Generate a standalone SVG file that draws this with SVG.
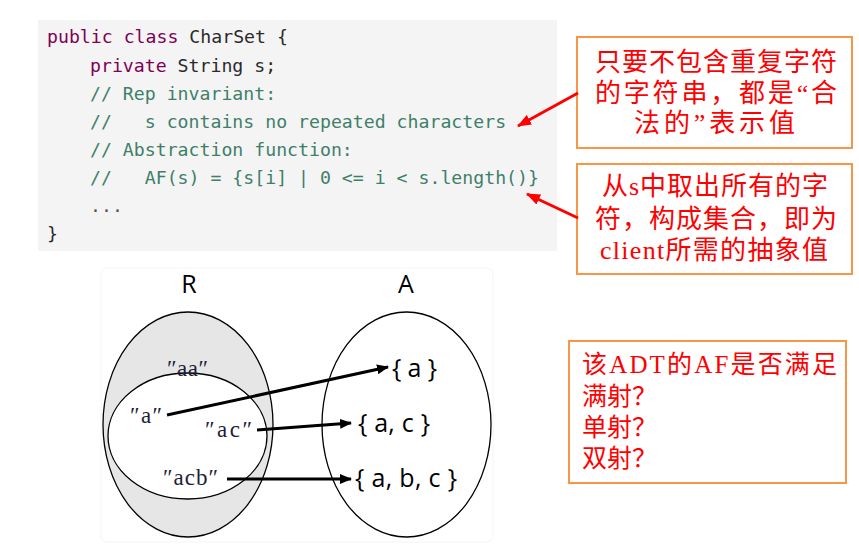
<svg xmlns="http://www.w3.org/2000/svg" width="859" height="547" viewBox="0 0 859 547">
<style>
.code{font-family:"DejaVu Sans Mono","Liberation Mono",monospace;font-size:18.2px;}
.kw{fill:#7f0055;}
.pl{fill:#2a2a2a;}
.cm{fill:#3f7f6a;}
.box{fill:#ffffff;stroke:#f79646;stroke-width:2;}
.note{font-family:"Liberation Serif","Noto Sans CJK SC",serif;fill:#ff0000;}
.venn{fill:none;stroke:#000;stroke-width:1.3;}
.str{font-family:"Liberation Serif","DejaVu Serif",serif;font-size:23px;fill:#1e1e3a;}
.set{font-family:"Open Sans","Noto Sans",sans-serif;font-size:25px;fill:#000;}
.big{font-family:"Open Sans","Noto Sans",sans-serif;font-size:25px;fill:#000;text-anchor:middle;}
.conn{stroke:#000;stroke-width:3;fill:none;}
.rconn{stroke:#ff0000;stroke-width:3;fill:none;}
</style>
<defs>
<marker id="ah" markerWidth="12" markerHeight="10" refX="11" refY="5" orient="auto" markerUnits="userSpaceOnUse">
<path d="M0,0 L12,5 L0,10 Z" fill="#000"/>
</marker>
<marker id="rh" markerWidth="14" markerHeight="11" refX="13" refY="5.5" orient="auto" markerUnits="userSpaceOnUse">
<path d="M0,0 L14,5.5 L0,11 Z" fill="#ff0000"/>
</marker>
</defs>
<rect width="859" height="547" fill="#ffffff"/>

<g id="code">
<rect x="38" y="20" width="519" height="231" fill="#f4f4f4"/>
<text class="code" x="47" y="43" xml:space="preserve"><tspan class="kw">public class</tspan><tspan class="pl"> CharSet {</tspan></text>
<text class="code" x="90" y="72" xml:space="preserve"><tspan class="kw">private</tspan><tspan class="pl"> String s;</tspan></text>
<text class="code cm" x="90" y="100" xml:space="preserve">// Rep invariant:</text>
<text class="code cm" x="90" y="128" xml:space="preserve">//   s contains no repeated characters</text>
<text class="code cm" x="90" y="156" xml:space="preserve">// Abstraction function:</text>
<text class="code cm" x="90" y="184" xml:space="preserve">//   AF(s) = {s[i] | 0 &lt;= i &lt; s.length()}</text>
<text class="code" x="90" y="212" fill="#555">...</text>
<text class="code pl" x="47" y="240">}</text>
</g>

<g id="note-rep">
<rect class="box" x="577" y="37" width="275" height="111"/>
<text class="note" font-size="26" x="595" y="71" textLength="242" lengthAdjust="spacing">只要不包含重复字符</text>
<text class="note" font-size="26" x="595" y="102" textLength="242" lengthAdjust="spacing">的字符串，都是“合</text>
<text class="note" font-size="26" x="634" y="132" textLength="161" lengthAdjust="spacing">法的”表示值</text>
</g>

<g id="note-af">
<rect class="box" x="577" y="164" width="275" height="110"/>
<text class="note" font-size="26" x="602" y="195" textLength="226" lengthAdjust="spacing">从s中取出所有的字</text>
<text class="note" font-size="26" x="595" y="228" textLength="242" lengthAdjust="spacing">符，构成集合，即为</text>
<text class="note" font-size="26" x="600" y="259" textLength="228" lengthAdjust="spacing">client所需的抽象值</text>
</g>

<g id="note-question">
<rect class="box" x="569" y="341" width="277" height="142"/>
<text class="note" font-size="25" x="582" y="373" textLength="255" lengthAdjust="spacing">该ADT的AF是否满足</text>
<text class="note" font-size="25" x="582" y="405">满射？</text>
<text class="note" font-size="25" x="582" y="436">单射？</text>
<text class="note" font-size="25" x="582" y="467">双射？</text>
</g>

<g id="venn-frame">
<rect x="101" y="268" width="392" height="274" rx="6" fill="none" stroke="#f4f4f4" stroke-width="1"/>
</g>

<g id="set-R">
<ellipse cx="188" cy="424.5" rx="85" ry="112.5" fill="#e6e6e6" stroke="#000" stroke-width="1.3"/>
<ellipse cx="187.5" cy="436" rx="79.5" ry="63" fill="#ffffff" stroke="#000" stroke-width="1.3"/>
<text class="big" x="189" y="293">R</text>
<text class="str" x="167" y="376" textLength="41" lengthAdjust="spacing">″aa″</text>
<text class="str" x="130" y="423" textLength="32" lengthAdjust="spacing">″a″</text>
<text class="str" x="205" y="437" textLength="47" lengthAdjust="spacing">″ac″</text>
<text class="str" x="163" y="485" textLength="55" lengthAdjust="spacing">″acb″</text>
</g>

<g id="set-A">
<ellipse class="venn" cx="406.5" cy="424.5" rx="84.5" ry="112.5"/>
<text class="big" x="406" y="293">A</text>
<text class="set" x="392" y="377" textLength="45" lengthAdjust="spacing">{ a }</text>
<text class="set" x="358" y="432" textLength="72" lengthAdjust="spacing">{ a, c }</text>
<text class="set" x="355" y="487" textLength="102" lengthAdjust="spacing">{ a, b, c }</text>
</g>

<g id="connectors">
<line class="conn" x1="167" y1="415" x2="388" y2="367" marker-end="url(#ah)"/>
<line class="conn" x1="257" y1="430" x2="351" y2="423" marker-end="url(#ah)"/>
<line class="conn" x1="227" y1="479" x2="351" y2="479" marker-end="url(#ah)"/>
<line class="rconn" x1="578" y1="93" x2="518" y2="126" marker-end="url(#rh)"/>
<line class="rconn" x1="578" y1="218" x2="527" y2="194" marker-end="url(#rh)"/>
</g>
</svg>
